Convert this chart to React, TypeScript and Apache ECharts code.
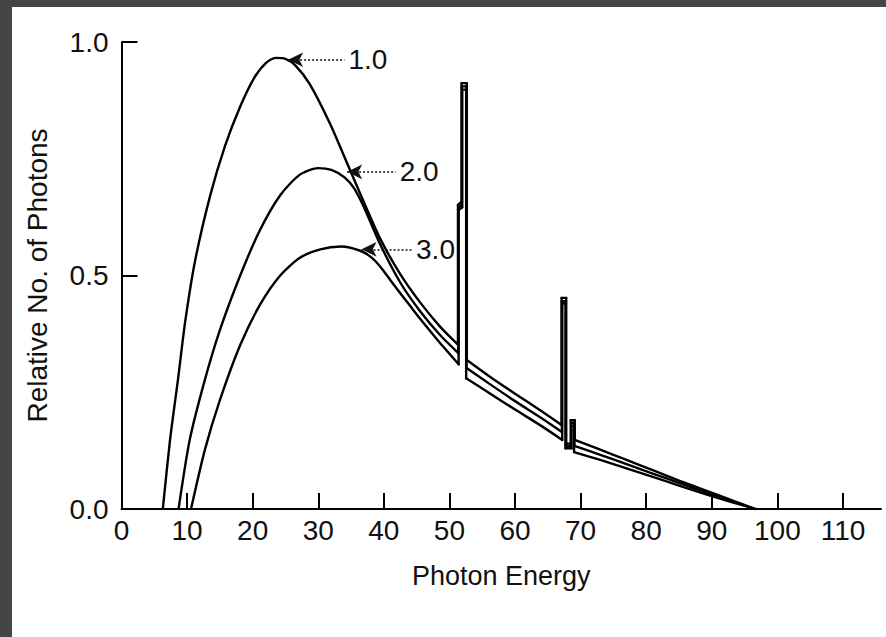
import React, { useEffect, useRef } from "react";
import * as echarts from "echarts";

// ---- Data ----
const xTickValues = [10, 20, 30, 40, 50, 60, 70, 80, 90, 100, 110];
const xLabelValues = [0, 10, 20, 30, 40, 50, 60, 70, 80, 90, 100, 110];
const xMax = 115.8;

// filtration 1.0
const curve1: [number, number][] = [
  [6.3, 0], [7.4, 0.148], [8.6, 0.276], [9.7, 0.4], [11.2, 0.53], [13.5, 0.67],
  [15.8, 0.778], [18.1, 0.862], [20.3, 0.925], [22, 0.955], [23.5, 0.966], [25, 0.964],
  [26.5, 0.95], [28.7, 0.91], [31.8, 0.825], [34.5, 0.737], [36.4, 0.675], [39.4, 0.58],
  [42.5, 0.503], [45.5, 0.443], [48.6, 0.39], [51.3, 0.352],
  [51.3, 0.651], [51.85, 0.658], [51.85, 0.912], [52.65, 0.912], [52.65, 0.319],
  [56, 0.285], [60, 0.247], [64, 0.21], [67.1, 0.18],
  [67.1, 0.452], [67.8, 0.452], [67.8, 0.14], [68.5, 0.14], [68.5, 0.19], [69.1, 0.19], [69.1, 0.148],
  [73, 0.127], [77, 0.105], [81, 0.083], [85, 0.061], [89, 0.04], [93, 0.019], [96.6, 0],
];

// filtration 2.0
const curve2: [number, number][] = [
  [8.7, 0], [10.4, 0.148], [12.7, 0.276], [15, 0.383], [18.1, 0.5], [21.1, 0.597],
  [24.2, 0.672], [27.2, 0.716], [30, 0.73], [32, 0.726], [34, 0.71], [35.5, 0.686],
  [37, 0.645], [39.4, 0.568], [42.5, 0.485], [45.5, 0.424], [48.6, 0.372], [51.35, 0.334],
  [51.35, 0.645], [51.9, 0.652], [51.9, 0.905], [52.6, 0.905], [52.6, 0.302],
  [56, 0.269], [60, 0.231], [64, 0.195], [67.15, 0.165],
  [67.15, 0.445], [67.75, 0.445], [67.75, 0.135], [68.55, 0.135], [68.55, 0.184], [69.05, 0.184], [69.05, 0.135],
  [73, 0.116], [77, 0.096], [81, 0.076], [85, 0.056], [89, 0.036], [93, 0.017], [96.6, 0],
];

// filtration 3.0
const curve3: [number, number][] = [
  [10.6, 0], [12.7, 0.126], [15, 0.233], [18.1, 0.351], [21.1, 0.437], [24.2, 0.5],
  [27.2, 0.538], [30.3, 0.556], [33.5, 0.562], [36.4, 0.553], [38, 0.54], [39.4, 0.52],
  [41, 0.49], [42.5, 0.462], [44, 0.435], [45.5, 0.408], [48.6, 0.355], [51.4, 0.31],
  [51.4, 0.64], [51.95, 0.646], [51.95, 0.898], [52.55, 0.898], [52.55, 0.28],
  [56, 0.249], [60, 0.213], [64, 0.178], [67.2, 0.148],
  [67.2, 0.44], [67.7, 0.44], [67.7, 0.13], [68.6, 0.13], [68.6, 0.178], [69.0, 0.178], [69.0, 0.122],
  [73, 0.105], [77, 0.087], [81, 0.069], [85, 0.05], [89, 0.032], [93, 0.015], [96.6, 0],
];

const curveLabels = ["1.0", "2.0", "3.0"];
// arrow tip (on the curve) and the x where the dotted leader ends
const arrowTips: [number, number][] = [[25.4, 0.962], [34.4, 0.722], [36.6, 0.556]];
const arrowTailX = [34.0, 41.8, 44.3];

const FONT = "'Liberation Sans', Arial, Helvetica, sans-serif";
const INK = "#111";
const FS = 28;

type Run = { pts: [number, number][]; smooth: boolean };

function splitRuns(pts: [number, number][]): Run[] {
  const runs: Run[] = [];
  let cur: [number, number][] = [pts[0]];
  for (let i = 1; i < pts.length; i++) {
    const prev = pts[i - 1];
    const p = pts[i];
    if (p[0] === prev[0]) {
      if (cur.length > 1) runs.push({ pts: cur, smooth: true });
      runs.push({ pts: [prev, p], smooth: false });
      cur = [p];
    } else {
      cur.push(p);
    }
  }
  if (cur.length > 1) runs.push({ pts: cur, smooth: true });
  return runs;
}

export default function App() {
  const ref = useRef<HTMLDivElement>(null);

  useEffect(() => {
    if (!ref.current) return;
    const chart = echarts.init(ref.current, null, { renderer: "svg" });
    const curves = [curve1, curve2, curve3];
    const series: any[] = [];
    curves.forEach((c, ci) => {
      const runs = splitRuns(c);
      runs.forEach((r, ri) => {
        const s: any = {
          type: "line",
          data: r.pts,
          smooth: r.smooth && r.pts.length > 2 ? 0.25 : false,
          showSymbol: false,
          symbol: "none",
          silent: true,
          lineStyle: { color: "#000", width: 2.4, cap: "round", join: "round" },
          z: 3,
        };
        if (ri === 0) {
          const tip = arrowTips[ci];
          s.markLine = {
            silent: true,
            animation: false,
            symbol: ["arrow", "none"],
            symbolSize: [11, 15],
            lineStyle: { color: INK, type: [2, 2], width: 1.5 },
            label: {
              show: true,
              position: "end",
              formatter: curveLabels[ci],
              fontSize: FS,
              fontFamily: FONT,
              color: INK,
              distance: 4,
            },
            data: [[{ coord: tip }, { coord: [arrowTailX[ci], tip[1]] }]],
          };
        }
        series.push(s);
      });
    });

    chart.setOption({
      animation: false,
      backgroundColor: "transparent",
      grid: { left: 121.5, top: 42, right: 5, bottom: 128, containLabel: false },
      xAxis: {
        type: "value",
        min: 0,
        max: xMax,
        name: "Photon Energy",
        nameLocation: "middle",
        nameGap: 53,
        nameTextStyle: { fontSize: 27, fontFamily: FONT, color: INK },
        axisLine: { show: true, lineStyle: { color: "#000", width: 2 } },
        axisTick: {
          show: true,
          inside: true,
          length: 16,
          customValues: xTickValues,
          lineStyle: { color: "#000", width: 2 },
        },
        axisLabel: {
          customValues: xLabelValues,
          fontSize: FS,
          fontFamily: FONT,
          color: INK,
          margin: 7,
        },
        splitLine: { show: false },
      },
      yAxis: {
        type: "value",
        min: 0,
        max: 1,
        interval: 0.5,
        name: "Relative No. of Photons",
        nameLocation: "middle",
        nameGap: 70,
        nameTextStyle: { fontSize: FS, fontFamily: FONT, color: INK },
        axisLine: { show: true, lineStyle: { color: "#000", width: 2 } },
        axisTick: { show: true, inside: true, length: 16, lineStyle: { color: "#000", width: 2 } },
        axisLabel: {
          formatter: (v: number) => v.toFixed(1),
          fontSize: FS,
          fontFamily: FONT,
          color: INK,
          margin: 13,
        },
        splitLine: { show: false },
      },
      series,
    });
    return () => chart.dispose();
  }, []);

  return (
    <div
      style={{
        position: "fixed",
        left: 0,
        top: 0,
        width: 886,
        height: 637,
        background: "#454545",
        overflow: "hidden",
      }}
    >
      <div style={{ position: "absolute", left: 12, top: 7, right: 0, bottom: 0, background: "#fff" }} />
      <div ref={ref} style={{ position: "absolute", left: 0, top: 0, width: 886, height: 637 }} />
    </div>
  );
}
